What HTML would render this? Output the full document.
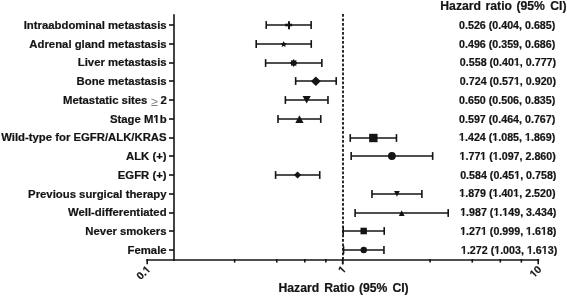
<!DOCTYPE html>
<html><head><meta charset="utf-8"><style>
html,body{margin:0;padding:0;background:#fff;overflow:hidden;}
svg{display:block;will-change:transform;}
text{font-family:"Liberation Sans",sans-serif;font-weight:bold;fill:#141414;white-space:pre;stroke:#141414;stroke-width:0.2px;}
.lab{font-size:11px;text-anchor:end;}
.val{font-size:10px;text-anchor:end;}
.tl{font-size:10.5px;text-anchor:end;}
.xt{font-size:12.2px;}
.hd{font-size:12.2px;}
.ge{font-size:12.5px;font-weight:normal;fill:#808080;stroke:none;}
.ax{stroke:#141414;stroke-width:1.6;}
.ci{stroke:#141414;stroke-width:1.6;}
</style></head><body>
<svg width="567" height="296" viewBox="0 0 567 296">
<g transform="translate(166.6 0) scale(1.031 1) translate(-166.6 0)"><text x="166.6" y="29.04" class="lab">Intraabdominal metastasis</text></g>
<line x1="169" x2="174" y1="25.00" y2="25.00" class="ax"/>
<line x1="266.23" x2="311.13" y1="25.00" y2="25.00" class="ci"/>
<line x1="266.23" x2="266.23" y1="21.10" y2="28.90" class="ci"/>
<line x1="311.13" x2="311.13" y1="21.10" y2="28.90" class="ci"/>
<path d="M285.17 25.00h7" stroke="#141414" stroke-width="2.6" fill="none"/>
<path d="M289.00 21.20v8.1" stroke="#141414" stroke-width="2" fill="none"/>
<g transform="translate(555.3 0) scale(1.07 1) translate(-555.3 0)"><text x="555.3" y="29.02" class="val">0.526 (0.404, 0.685)</text></g>
<g transform="translate(166.6 0) scale(1.031 1) translate(-166.6 0)"><text x="166.6" y="47.76" class="lab">Adrenal gland metastasis</text></g>
<line x1="169" x2="174" y1="44.00" y2="44.00" class="ax"/>
<line x1="256.19" x2="311.25" y1="44.00" y2="44.00" class="ci"/>
<line x1="256.19" x2="256.19" y1="40.10" y2="47.90" class="ci"/>
<line x1="311.25" x2="311.25" y1="40.10" y2="47.90" class="ci"/>
<polygon points="283.68,40.90 284.62,43.01 286.91,43.25 285.20,44.79 285.67,47.05 283.68,45.90 281.68,47.05 282.15,44.79 280.44,43.25 282.73,43.01" fill="#141414"/>
<g transform="translate(555.3 0) scale(1.07 1) translate(-555.3 0)"><text x="555.3" y="47.74" class="val">0.496 (0.359, 0.686)</text></g>
<g transform="translate(166.6 0) scale(1.031 1) translate(-166.6 0)"><text x="166.6" y="66.48" class="lab">Liver metastasis</text></g>
<line x1="169" x2="174" y1="63.00" y2="63.00" class="ax"/>
<line x1="265.60" x2="321.84" y1="63.00" y2="63.00" class="ci"/>
<line x1="265.60" x2="265.60" y1="59.10" y2="66.90" class="ci"/>
<line x1="321.84" x2="321.84" y1="59.10" y2="66.90" class="ci"/>
<polygon points="293.69,59.00 294.76,60.41 296.52,60.17 296.28,61.93 297.69,63.00 296.28,64.07 296.52,65.83 294.76,65.59 293.69,67.00 292.62,65.59 290.86,65.83 291.10,64.07 289.69,63.00 291.10,61.93 290.86,60.17 292.62,60.41" fill="#141414"/>
<g transform="translate(556.0999999999999 0) scale(1.07 1) translate(-556.0999999999999 0)"><text x="556.0999999999999" y="66.46" class="val">0.558 (0.401, 0.777)</text><rect x="516.74" y="64.84" width="2.23" height="2.32" fill="#fff"/><rect x="520.40" y="64.84" width="1.98" height="2.32" fill="#fff"/></g>
<g transform="translate(166.6 0) scale(1.031 1) translate(-166.6 0)"><text x="166.6" y="85.20" class="lab">Bone metastasis</text></g>
<line x1="169" x2="174" y1="81.00" y2="81.00" class="ax"/>
<line x1="295.65" x2="336.21" y1="81.00" y2="81.00" class="ci"/>
<line x1="295.65" x2="295.65" y1="77.10" y2="84.90" class="ci"/>
<line x1="336.21" x2="336.21" y1="77.10" y2="84.90" class="ci"/>
<path d="M315.84 76.50L320.74 81.20L315.84 85.90L310.94 81.20Z" fill="#141414"/>
<g transform="translate(556.0999999999999 0) scale(1.07 1) translate(-556.0999999999999 0)"><text x="556.0999999999999" y="85.18" class="val">0.724 (0.571, 0.920)</text><rect x="516.74" y="83.56" width="2.23" height="2.32" fill="#fff"/><rect x="520.40" y="83.56" width="1.98" height="2.32" fill="#fff"/></g>
<g transform="translate(166.6 0) scale(1.031 1) translate(-166.6 0)"><text x="148.0" y="103.92" class="lab">Metastatic sites</text></g>
<g transform="translate(166.6 0) scale(1.031 1) translate(-166.6 0)"><text x="166.79999999999998" y="103.92" class="lab">2</text></g>
<text x="151.3" y="105.50" class="ge">≥</text>
<line x1="169" x2="174" y1="100.00" y2="100.00" class="ax"/>
<line x1="285.37" x2="327.97" y1="100.00" y2="100.00" class="ci"/>
<line x1="285.37" x2="285.37" y1="96.10" y2="103.90" class="ci"/>
<line x1="327.97" x2="327.97" y1="96.10" y2="103.90" class="ci"/>
<path d="M302.57 96.10H310.77L306.67 103.60Z" fill="#141414"/>
<g transform="translate(555.3 0) scale(1.07 1) translate(-555.3 0)"><text x="555.3" y="103.90" class="val">0.650 (0.506, 0.835)</text></g>
<g transform="translate(166.6 0) scale(1.031 1) translate(-166.6 0)"><text x="166.6" y="122.64" class="lab">Stage M1b</text><rect x="154.36" y="120.92" width="1.95" height="2.42" fill="#fff"/><rect x="157.88" y="120.92" width="2.34" height="2.42" fill="#fff"/></g>
<line x1="169" x2="174" y1="119.00" y2="119.00" class="ax"/>
<line x1="278.00" x2="320.74" y1="119.00" y2="119.00" class="ci"/>
<line x1="278.00" x2="278.00" y1="115.10" y2="122.90" class="ci"/>
<line x1="320.74" x2="320.74" y1="115.10" y2="122.90" class="ci"/>
<path d="M295.34 123.00H303.54L299.44 115.30Z" fill="#141414"/>
<g transform="translate(555.3 0) scale(1.07 1) translate(-555.3 0)"><text x="555.3" y="122.62" class="val">0.597 (0.464, 0.767)</text></g>
<g transform="translate(166.6 0) scale(1.031 1) translate(-166.6 0)"><text x="166.6" y="141.36" class="lab">Wild-type for EGFR/ALK/KRAS</text></g>
<line x1="169" x2="174" y1="138.00" y2="138.00" class="ax"/>
<line x1="350.24" x2="396.48" y1="138.00" y2="138.00" class="ci"/>
<line x1="350.24" x2="350.24" y1="134.10" y2="141.90" class="ci"/>
<line x1="396.48" x2="396.48" y1="134.10" y2="141.90" class="ci"/>
<rect x="369.16" y="133.80" width="8.4" height="8.4" fill="#141414"/>
<g transform="translate(555.3 0) scale(1.07 1) translate(-555.3 0)"><text x="555.3" y="141.34" class="val">1.424 (1.085, 1.869)</text><rect x="465.28" y="139.72" width="2.35" height="2.32" fill="#fff"/><rect x="469.07" y="139.72" width="1.86" height="2.32" fill="#fff"/><rect x="496.12" y="139.72" width="2.59" height="2.32" fill="#fff"/><rect x="500.15" y="139.72" width="1.62" height="2.32" fill="#fff"/><rect x="526.96" y="139.72" width="2.31" height="2.32" fill="#fff"/><rect x="530.70" y="139.72" width="1.91" height="2.32" fill="#fff"/></g>
<g transform="translate(166.6 0) scale(1.031 1) translate(-166.6 0)"><text x="166.6" y="160.08" class="lab">ALK (+)</text></g>
<line x1="169" x2="174" y1="156.00" y2="156.00" class="ax"/>
<line x1="351.17" x2="432.66" y1="156.00" y2="156.00" class="ci"/>
<line x1="351.17" x2="351.17" y1="152.10" y2="159.90" class="ci"/>
<line x1="432.66" x2="432.66" y1="152.10" y2="159.90" class="ci"/>
<circle cx="391.90" cy="156.00" r="3.9" fill="#141414"/>
<g transform="translate(555.8 0) scale(1.07 1) translate(-555.8 0)"><text x="555.8" y="160.06" class="val">1.771 (1.097, 2.860)</text><rect x="466.25" y="158.44" width="1.89" height="2.32" fill="#fff"/><rect x="469.57" y="158.44" width="2.33" height="2.32" fill="#fff"/><rect x="485.87" y="158.44" width="1.69" height="2.32" fill="#fff"/><rect x="489.00" y="158.44" width="1.59" height="2.32" fill="#fff"/><rect x="497.09" y="158.44" width="2.13" height="2.32" fill="#fff"/><rect x="500.65" y="158.44" width="2.09" height="2.32" fill="#fff"/></g>
<g transform="translate(166.6 0) scale(1.031 1) translate(-166.6 0)"><text x="166.6" y="178.80" class="lab">EGFR (+)</text></g>
<line x1="169" x2="174" y1="175.00" y2="175.00" class="ax"/>
<line x1="275.59" x2="319.74" y1="175.00" y2="175.00" class="ci"/>
<line x1="275.59" x2="275.59" y1="171.10" y2="178.90" class="ci"/>
<line x1="319.74" x2="319.74" y1="171.10" y2="178.90" class="ci"/>
<path d="M297.56 171.40L301.16 175.00L297.56 178.60L293.96 175.00Z" fill="#141414"/>
<g transform="translate(556.4 0) scale(1.07 1) translate(-556.4 0)"><text x="556.4" y="178.78" class="val">0.584 (0.451, 0.758)</text><rect x="516.76" y="177.16" width="2.51" height="2.32" fill="#fff"/><rect x="520.70" y="177.16" width="1.70" height="2.32" fill="#fff"/></g>
<g transform="translate(166.6 0) scale(1.031 1) translate(-166.6 0)"><text x="166.6" y="197.52" class="lab">Previous surgical therapy</text></g>
<line x1="169" x2="174" y1="194.00" y2="194.00" class="ax"/>
<line x1="371.97" x2="421.89" y1="194.00" y2="194.00" class="ci"/>
<line x1="371.97" x2="371.97" y1="190.10" y2="197.90" class="ci"/>
<line x1="421.89" x2="421.89" y1="190.10" y2="197.90" class="ci"/>
<path d="M394.03 191.00H399.83L396.93 196.80Z" fill="#141414"/>
<g transform="translate(555.5 0) scale(1.07 1) translate(-555.5 0)"><text x="555.5" y="197.50" class="val">1.879 (1.401, 2.520)</text><rect x="465.29" y="195.88" width="2.54" height="2.32" fill="#fff"/><rect x="469.27" y="195.88" width="1.67" height="2.32" fill="#fff"/><rect x="497.07" y="195.88" width="1.85" height="2.32" fill="#fff"/><rect x="500.35" y="195.88" width="2.37" height="2.32" fill="#fff"/><rect x="515.76" y="195.88" width="2.60" height="2.32" fill="#fff"/><rect x="519.80" y="195.88" width="1.61" height="2.32" fill="#fff"/></g>
<g transform="translate(166.6 0) scale(1.031 1) translate(-166.6 0)"><text x="166.6" y="216.24" class="lab">Well-differentiated</text></g>
<line x1="169" x2="174" y1="213.00" y2="213.00" class="ax"/>
<line x1="355.11" x2="448.21" y1="213.00" y2="213.00" class="ci"/>
<line x1="355.11" x2="355.11" y1="209.10" y2="216.90" class="ci"/>
<line x1="448.21" x2="448.21" y1="209.10" y2="216.90" class="ci"/>
<path d="M398.79 216.10H404.59L401.69 210.20Z" fill="#141414"/>
<g transform="translate(556.4 0) scale(1.07 1) translate(-556.4 0)"><text x="556.4" y="216.22" class="val">1.987 (1.149, 3.434)</text><rect x="466.29" y="214.60" width="2.45" height="2.32" fill="#fff"/><rect x="470.17" y="214.60" width="1.77" height="2.32" fill="#fff"/><rect x="498.06" y="214.60" width="1.75" height="2.32" fill="#fff"/><rect x="501.25" y="214.60" width="2.46" height="2.32" fill="#fff"/><rect x="505.54" y="214.60" width="2.62" height="2.32" fill="#fff"/><rect x="509.59" y="214.60" width="1.59" height="2.32" fill="#fff"/></g>
<g transform="translate(166.6 0) scale(1.031 1) translate(-166.6 0)"><text x="166.6" y="234.96" class="lab">Never smokers</text></g>
<line x1="169" x2="174" y1="231.00" y2="231.00" class="ax"/>
<line x1="343.21" x2="384.22" y1="231.00" y2="231.00" class="ci"/>
<line x1="343.21" x2="343.21" y1="227.10" y2="234.90" class="ci"/>
<line x1="384.22" x2="384.22" y1="227.10" y2="234.90" class="ci"/>
<rect x="360.49" y="227.70" width="6.4" height="6.6" fill="#141414"/>
<g transform="translate(556.4 0) scale(1.07 1) translate(-556.4 0)"><text x="556.4" y="234.94" class="val">1.271 (0.999, 1.618)</text><rect x="466.29" y="233.32" width="2.45" height="2.32" fill="#fff"/><rect x="470.17" y="233.32" width="1.77" height="2.32" fill="#fff"/><rect x="485.91" y="233.32" width="2.25" height="2.32" fill="#fff"/><rect x="489.60" y="233.32" width="1.96" height="2.32" fill="#fff"/><rect x="527.97" y="233.32" width="2.40" height="2.32" fill="#fff"/><rect x="531.80" y="233.32" width="1.81" height="2.32" fill="#fff"/><rect x="541.99" y="233.32" width="2.26" height="2.32" fill="#fff"/><rect x="545.68" y="233.32" width="1.95" height="2.32" fill="#fff"/></g>
<g transform="translate(166.6 0) scale(1.031 1) translate(-166.6 0)"><text x="166.6" y="253.68" class="lab">Female</text></g>
<line x1="169" x2="174" y1="250.00" y2="250.00" class="ax"/>
<line x1="343.55" x2="383.95" y1="250.00" y2="250.00" class="ci"/>
<line x1="343.55" x2="343.55" y1="246.10" y2="253.90" class="ci"/>
<line x1="383.95" x2="383.95" y1="246.10" y2="253.90" class="ci"/>
<circle cx="363.76" cy="250.00" r="3.2" fill="#141414"/>
<g transform="translate(557.1999999999999 0) scale(1.07 1) translate(-557.1999999999999 0)"><text x="557.1999999999999" y="253.66" class="val">1.272 (1.003, 1.613)</text><rect x="467.27" y="252.04" width="2.26" height="2.32" fill="#fff"/><rect x="470.97" y="252.04" width="1.95" height="2.32" fill="#fff"/><rect x="498.12" y="252.04" width="2.50" height="2.32" fill="#fff"/><rect x="502.05" y="252.04" width="1.71" height="2.32" fill="#fff"/><rect x="528.96" y="252.04" width="2.21" height="2.32" fill="#fff"/><rect x="532.60" y="252.04" width="2.00" height="2.32" fill="#fff"/><rect x="542.98" y="252.04" width="2.07" height="2.32" fill="#fff"/><rect x="546.48" y="252.04" width="2.14" height="2.32" fill="#fff"/></g>
<line x1="174" x2="174" y1="14.2" y2="261" class="ax"/>
<line x1="146.20" x2="539.20" y1="260" y2="260" class="ax"/>
<line x1="343" x2="343" y1="14.1" y2="259" stroke="#141414" stroke-width="1.8" stroke-dasharray="2.6 1.9"/>
<line x1="147.20" x2="147.20" y1="259" y2="264.30" class="ax"/>
<line x1="234.62" x2="234.62" y1="259" y2="262.60" class="ax"/>
<line x1="276.77" x2="276.77" y1="259" y2="262.60" class="ax"/>
<line x1="304.81" x2="304.81" y1="259" y2="262.60" class="ax"/>
<line x1="325.85" x2="325.85" y1="259" y2="262.60" class="ax"/>
<line x1="342.70" x2="342.70" y1="259" y2="264.30" class="ax"/>
<line x1="342.70" x2="342.70" y1="259" y2="264.30" class="ax"/>
<line x1="430.12" x2="430.12" y1="259" y2="262.60" class="ax"/>
<line x1="472.27" x2="472.27" y1="259" y2="262.60" class="ax"/>
<line x1="500.31" x2="500.31" y1="259" y2="262.60" class="ax"/>
<line x1="521.35" x2="521.35" y1="259" y2="262.60" class="ax"/>
<line x1="538.20" x2="538.20" y1="259" y2="264.30" class="ax"/>
<g transform="translate(151.20 270.0) rotate(-45)"><text x="0" y="0" class="tl">0.1</text><rect x="-5.90" y="-1.67" width="2.44" height="2.37" fill="#fff"/><rect x="-1.92" y="-1.67" width="2.31" height="2.37" fill="#fff"/></g>
<g transform="translate(346.70 270.0) rotate(-45)"><text x="0" y="0" class="tl">1</text><rect x="-5.88" y="-1.67" width="2.44" height="2.37" fill="#fff"/><rect x="-1.90" y="-1.67" width="2.31" height="2.37" fill="#fff"/></g>
<g transform="translate(542.20 270.0) rotate(-45)"><text x="0" y="0" class="tl">10</text><rect x="-11.73" y="-1.67" width="2.44" height="2.37" fill="#fff"/><rect x="-7.75" y="-1.67" width="2.31" height="2.37" fill="#fff"/></g>
<g><text y="291.8" class="xt"><tspan x="278.5">Hazard </tspan><tspan x="324.2">Ratio </tspan><tspan x="359.0">(95%  </tspan><tspan x="392.4">CI)</tspan></text></g>
<g><text y="9.8" class="hd"><tspan x="440.3">Hazard </tspan><tspan x="485.6">ratio </tspan><tspan x="516.4">(95%  </tspan><tspan x="550.3">CI)</tspan></text></g>
</svg></body></html>
